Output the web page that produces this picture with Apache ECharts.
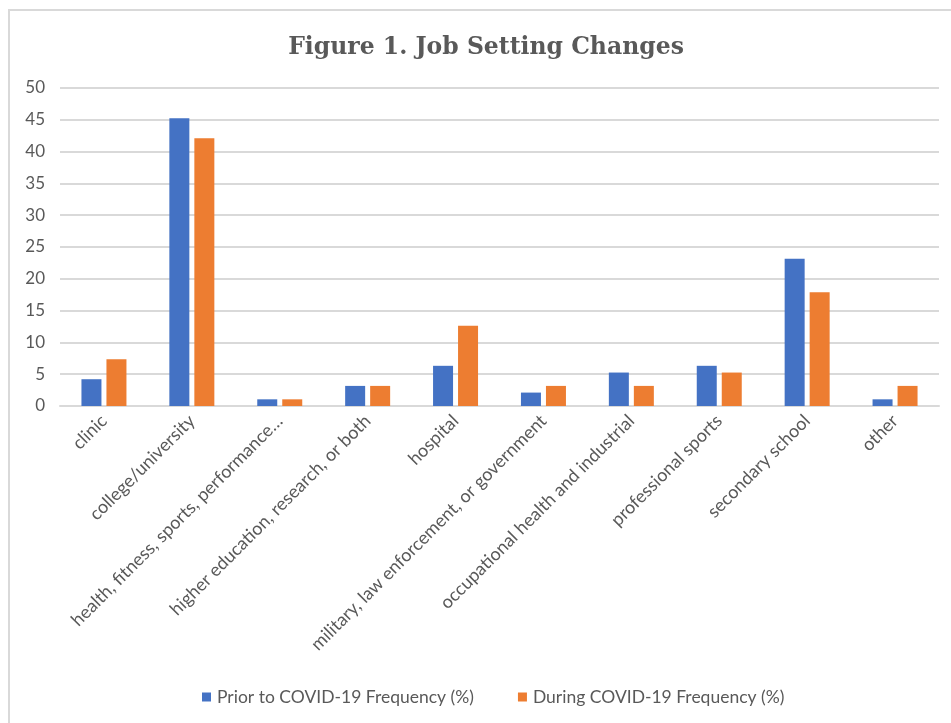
<!DOCTYPE html>
<html>
<head>
<meta charset="utf-8">
<script src="https://cdn.jsdelivr.net/npm/echarts@6/dist/echarts.min.js"></script>
<style>
  html, body { margin: 0; padding: 0; background: #fff; }
  #chart { width: 951px; height: 723px; }
</style>
</head>
<body>
<div id="chart"></div>
<script>
// Job setting categories and frequencies (%) before and during COVID-19
const categories = [
  'clinic',
  'college/university',
  'health, fitness, sports, performance…',
  'higher education, research, or both',
  'hospital',
  'military, law enforcement, or government',
  'occupational health and industrial',
  'professional sports',
  'secondary school',
  'other'
];
const priorValues = [4.21, 45.26, 1.05, 3.16, 6.32, 2.11, 5.26, 6.32, 23.16, 1.05];
const duringValues = [7.37, 42.11, 1.05, 3.16, 12.63, 3.16, 3.16, 5.26, 17.89, 3.16];
const seriesNames = ['Prior to COVID-19 Frequency (%)', 'During COVID-19 Frequency (%)'];
const yTicks = { min: 0, max: 50, interval: 5 };

const textColor = '#595959';
const gridColor = '#d9d9d9';
const labelFont = 'Lato, "Open Sans", sans-serif';

const chart = echarts.init(document.getElementById('chart'), null, { renderer: 'canvas' });
chart.setOption({
  backgroundColor: '#ffffff',
  animation: false,
  title: {
    text: 'Figure 1. Job Setting Changes',
    left: 481,
    top: 31,
    textAlign: 'center',
    textStyle: {
      fontFamily: '"DejaVu Serif", serif',
      fontWeight: 'bold',
      fontSize: 23.5,
      color: textColor
    }
  },
  graphic: [{
    type: 'polyline',
    shape: { points: [[9, 723], [9, 10], [951, 10]] },
    style: { stroke: gridColor, lineWidth: 2, fill: null },
    silent: true
  }],
  legend: {
    bottom: 12,
    left: 197,
    itemWidth: 9,
    itemHeight: 9,
    itemGap: 44,
    icon: 'rect',
    textStyle: { fontFamily: labelFont, fontSize: 17.5, color: textColor, padding: [0, 0, 0, 1] },
    data: seriesNames
  },
  grid: { left: 60, right: 12, top: 88, bottom: 317, containLabel: false },
  xAxis: {
    type: 'category',
    data: categories,
    axisLine: { lineStyle: { color: gridColor, width: 2 } },
    axisTick: { show: false },
    axisLabel: {
      rotate: 45,
      interval: 0,
      margin: 12,
      fontFamily: labelFont,
      fontSize: 18,
      color: textColor
    }
  },
  yAxis: {
    type: 'value',
    min: yTicks.min,
    max: yTicks.max,
    interval: yTicks.interval,
    axisLine: { show: false },
    axisTick: { show: false },
    splitLine: { lineStyle: { color: gridColor, width: 2 } },
    axisLabel: {
      margin: 15,
      fontFamily: labelFont,
      fontSize: 17,
      color: textColor
    }
  },
  series: [
    {
      name: seriesNames[0],
      type: 'bar',
      data: priorValues,
      barWidth: 20,
      barGap: '25%',
      itemStyle: { color: '#4472c4' }
    },
    {
      name: seriesNames[1],
      type: 'bar',
      data: duringValues,
      barWidth: 20,
      barGap: '25%',
      itemStyle: { color: '#ed7d31' }
    }
  ]
});
</script>
</body>
</html>
